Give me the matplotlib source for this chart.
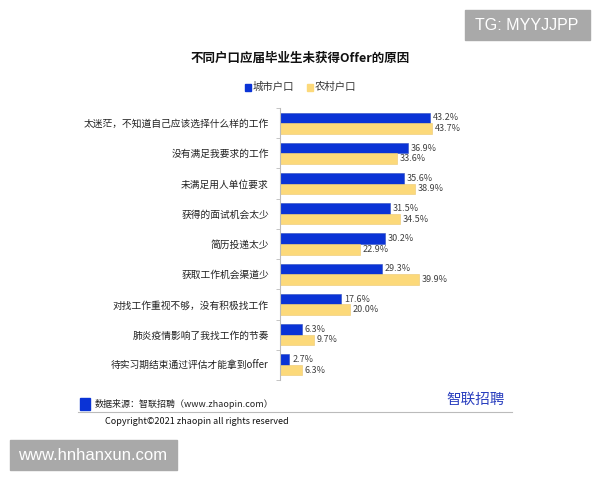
import matplotlib.pyplot as plt
import numpy as np
from matplotlib.patches import Rectangle

plt.rcParams['font.family'] = ['Noto Sans CJK SC', 'DejaVu Sans']

# 数据
categories = [
    '太迷茫，不知道自己应该选择什么样的工作',
    '没有满足我要求的工作',
    '未满足用人单位要求',
    '获得的面试机会太少',
    '简历投递太少',
    '获取工作机会渠道少',
    '对找工作重视不够，没有积极找工作',
    '肺炎疫情影响了我找工作的节奏',
    '待实习期结束通过评估才能拿到offer',
]
city = [43.2, 36.9, 35.6, 31.5, 30.2, 29.3, 17.6, 6.3, 2.7]
rural = [43.7, 33.6, 38.9, 34.5, 22.9, 39.9, 20.0, 9.7, 6.3]
series_names = ['城市户口', '农村户口']

BLUE = '#0a33d6'
YELLOW = '#fcd97a'

fig = plt.figure(figsize=(6, 4.8), dpi=100)
ax = fig.add_axes([280 / 600, 1 - 380 / 480, 280 / 600, 272 / 480])

n = len(categories)
y = np.arange(n)
h = 0.35
ax.barh(y - h / 2, city, height=h, color=BLUE, edgecolor='#3050c0', linewidth=0.4)
ax.barh(y + h / 2, rural, height=h, color=YELLOW, edgecolor='#ecc870', linewidth=0.4)

for i in range(n):
    ax.text(city[i] + 0.8, y[i] - h / 2, f'{city[i]:.1f}%', va='center', ha='left',
            fontsize=6.5, color='#404040')
    ax.text(rural[i] + 0.8, y[i] + h / 2, f'{rural[i]:.1f}%', va='center', ha='left',
            fontsize=6.5, color='#404040')

ax.set_xlim(0, 80.5)
ax.set_ylim(n - 0.5, -0.5)
ax.set_yticks(y)
ax.set_yticklabels(categories, fontsize=7, color='#222222')
ax.set_yticks(np.arange(n + 1) - 0.5, minor=True)
ax.tick_params(axis='y', which='major', length=0, pad=8)
ax.tick_params(axis='y', which='minor', length=3, color='#bbbbbb')
ax.set_xticks([])
for s in ['top', 'right', 'bottom']:
    ax.spines[s].set_visible(False)
ax.spines['left'].set_color('#bbbbbb')
ax.spines['left'].set_linewidth(0.8)

# 标题和图例
fig.text(300 / 600, 1 - 58 / 480, '不同户口应届毕业生未获得Offer的原因', ha='center', va='center',
         fontsize=9, fontweight='bold', color='#111111')
fig.patches.append(Rectangle((245 / 600, 1 - 91 / 480), 6 / 600, 7 / 480, color=BLUE,
                             transform=fig.transFigure, figure=fig))
fig.text(253 / 600, 1 - 87 / 480, series_names[0], ha='left', va='center', fontsize=7.5, color='#333333')
fig.patches.append(Rectangle((307 / 600, 1 - 91 / 480), 6 / 600, 7 / 480, color=YELLOW,
                             transform=fig.transFigure, figure=fig))
fig.text(315 / 600, 1 - 87 / 480, series_names[1], ha='left', va='center', fontsize=7.5, color='#333333')

# 页脚
fig.patches.append(Rectangle((80 / 600, 1 - 410 / 480), 10 / 600, 12 / 480, color=BLUE,
                             transform=fig.transFigure, figure=fig))
fig.text(95 / 600, 1 - 404 / 480, '数据来源：智联招聘（www.zhaopin.com）', ha='left', va='center',
         fontsize=6.5, color='#222222')
fig.add_artist(plt.Line2D([78 / 600, 512 / 600], [1 - 412 / 480, 1 - 412 / 480],
                          color='#bbbbbb', linewidth=0.8, transform=fig.transFigure))
fig.text(505 / 600, 1 - 400 / 480, '智联招聘', ha='right', va='center', fontsize=10.5,
         color='#2a3fbf')
fig.text(105 / 600, 1 - 421 / 480, 'Copyright©2021 zhaopin all rights reserved', ha='left',
         va='center', fontsize=6.5, color='#111111')

# 水印
fig.patches.append(Rectangle((10 / 600, 1 - 470 / 480), 167 / 600, 30 / 480, color='#a9a9a9',
                             transform=fig.transFigure, figure=fig))
fig.text(93 / 600, 1 - 455 / 480, 'www.hnhanxun.com', ha='center', va='center', fontsize=12,
         color='white', family='Liberation Sans')
fig.patches.append(Rectangle((465 / 600, 1 - 40 / 480), 125 / 600, 30 / 480, color='#a9a9a9',
                             transform=fig.transFigure, figure=fig))
fig.text(527 / 600, 1 - 25 / 480, 'TG: MYYJJPP', ha='center', va='center', fontsize=11.5,
         color='white', family='Liberation Sans')

fig.savefig('out.png', dpi=100)
